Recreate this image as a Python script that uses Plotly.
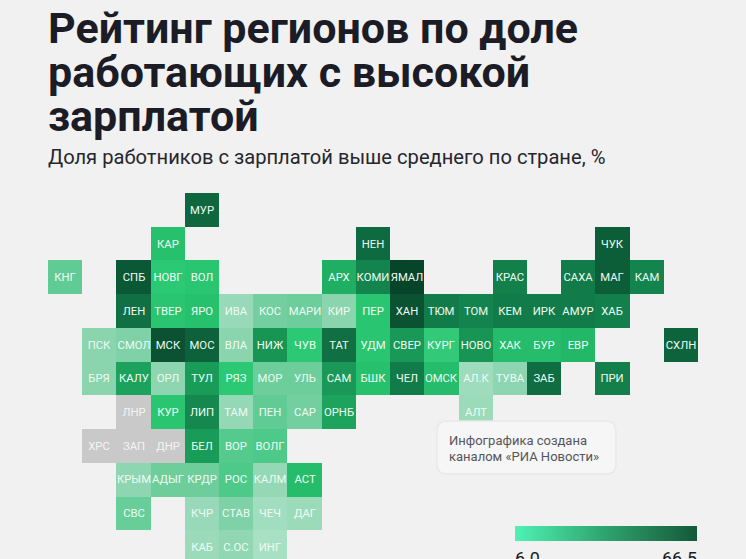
import plotly.graph_objects as go

W, H = 746, 559

# tile grid, one list per row, None where there is no region
tile_codes = [
    [None, None, None, None, "МУР", None, None, None, None, None, None, None, None, None, None, None, None, None, None],
    [None, None, None, "КАР", None, None, None, None, None, "НЕН", None, None, None, None, None, None, "ЧУК", None, None],
    ["КНГ", None, "СПБ", "НОВГ", "ВОЛ", None, None, None, "АРХ", "КОМИ", "ЯМАЛ", None, None, "КРАС", None, "САХА", "МАГ", "КАМ", None],
    [None, None, "ЛЕН", "ТВЕР", "ЯРО", "ИВА", "КОС", "МАРИ", "КИР", "ПЕР", "ХАН", "ТЮМ", "ТОМ", "КЕМ", "ИРК", "АМУР", "ХАБ", None, None],
    [None, "ПСК", "СМОЛ", "МСК", "МОС", "ВЛА", "НИЖ", "ЧУВ", "ТАТ", "УДМ", "СВЕР", "КУРГ", "НОВО", "ХАК", "БУР", "ЕВР", None, None, "СХЛН"],
    [None, "БРЯ", "КАЛУ", "ОРЛ", "ТУЛ", "РЯЗ", "МОР", "УЛЬ", "САМ", "БШК", "ЧЕЛ", "ОМСК", "АЛ.К", "ТУВА", "ЗАБ", None, "ПРИ", None, None],
    [None, None, "ЛНР", "КУР", "ЛИП", "ТАМ", "ПЕН", "САР", "ОРНБ", None, None, None, "АЛТ", None, None, None, None, None, None],
    [None, "ХРС", "ЗАП", "ДНР", "БЕЛ", "ВОР", "ВОЛГ", None, None, None, None, None, None, None, None, None, None, None, None],
    [None, None, "КРЫМ", "АДЫГ", "КРДР", "РОС", "КАЛМ", "АСТ", None, None, None, None, None, None, None, None, None, None, None],
    [None, None, "СВС", None, "КЧР", "СТАВ", "ЧЕЧ", "ДАГ", None, None, None, None, None, None, None, None, None, None, None],
    [None, None, None, None, "КАБ", "С.ОС", "ИНГ", None, None, None, None, None, None, None, None, None, None, None, None],
]
# estimated from the tile colours
tile_values = [
    [None, None, None, None, 55, None, None, None, None, None, None, None, None, None, None, None, None, None, None],
    [None, None, None, 32, None, None, None, None, None, 54, None, None, None, None, None, None, 58, None, None],
    [22, None, 60, 30, 31, None, None, None, 36, 46, 66.5, None, None, 47, None, 48, 58, 46, None],
    [None, None, 52, 31, 32, 11, 19, 20, 15, 31, 62, 48, 46, 48, 48, 48, 47, None, None],
    [None, 15, 17, 62, 57, 15, 42, 30, 52, 31, 41, 29, 42, 33, 33, 34, None, None, 56],
    [None, 15, 38.5, 14, 40, 30, 20, 20, 41, 32, 48, 33, 9, 14, 53, None, 47, None, None],
    [None, None, None, 31, 45, 12, 22, 19, 38, None, None, None, 10, None, None, None, None, None, None],
    [None, None, None, None, 40, 24, 25, None, None, None, None, None, None, None, None, None, None, None, None],
    [None, None, 14, 20, 20, 25, 12, 33, None, None, None, None, None, None, None, None, None, None, None],
    [None, None, 21, None, 11, 17, 8, 10, None, None, None, None, None, None, None, None, None, None, None],
    [None, None, None, None, 10, 13, 6, None, None, None, None, None, None, None, None, None, None, None, None],
]
no_data_codes = ["ЛНР", "ХРС", "ЗАП", "ДНР"]
legend_limits = [6.0, 66.5]

title_lines = ["Рейтинг регионов по доле", "работающих с высокой", "зарплатой"]
subtitle = "Доля работников с зарплатой выше среднего по стране, %"
note_lines = ["Инфографика создана", "каналом «РИА Новости»"]

tile_scale = [
    [0.0, "#a8e0c4"], [0.15, "#8ad4ae"], [0.27, "#5fcb94"], [0.40, "#2ac973"],
    [0.53, "#1ca45d"], [0.70, "#127a49"], [0.86, "#0c5e39"], [1.0, "#07452b"],
]
legend_scale = [[0.0, "#4ff2b4"], [0.5, "#2ea36c"], [1.0, "#14593a"]]

# where the grid sits on the page, in pixels
LEFT, TOP, CELL_W, CELL_H = 48, 193, 34.2, 33.7
TILE_FONT = "Roboto, sans-serif"


def px(x):
    return x / W


def py(y):
    return 1 - y / H


def rounded_rect(x0, y0, x1, y1, r):
    x0, x1 = px(x0), px(x1)
    y0, y1 = py(y0), py(y1)
    rx, ry = r / W, r / H
    return (f"M {x0 + rx} {y0} L {x1 - rx} {y0} Q {x1} {y0} {x1} {y0 - ry} "
            f"L {x1} {y1 + ry} Q {x1} {y1} {x1 - rx} {y1} L {x0 + rx} {y1} "
            f"Q {x0} {y1} {x0} {y1 + ry} L {x0} {y0 - ry} Q {x0} {y0} {x0 + rx} {y0} Z")


grey_z = [[1 if c in no_data_codes else None for c in row] for row in tile_codes]
tile_text = [[c if c and c not in no_data_codes else "" for c in row] for row in tile_codes]
grey_text = [[c if c in no_data_codes else "" for c in row] for row in tile_codes]

fig = go.Figure()
fig.add_trace(go.Heatmap(
    z=tile_values, text=tile_text, texttemplate="%{text}",
    textfont=dict(family=TILE_FONT, size=11.3, color="#eefbf3"),
    colorscale=tile_scale, zmin=legend_limits[0], zmax=legend_limits[1],
    showscale=False, hoverongaps=False,
))
fig.add_trace(go.Heatmap(
    z=grey_z, text=grey_text, texttemplate="%{text}",
    textfont=dict(family=TILE_FONT, size=11.3, color="#f4f4f4"),
    colorscale=[[0, "#c9c9c9"], [1, "#c9c9c9"]],
    showscale=False, hoverongaps=False,
))
# only here for the colour bar in the corner
fig.add_trace(go.Scatter(
    x=[None, None], y=[None, None], mode="markers", showlegend=False,
    marker=dict(
        color=legend_limits, cmin=legend_limits[0], cmax=legend_limits[1],
        colorscale=legend_scale, showscale=True,
        colorbar=dict(
            orientation="h", x=px(515), xanchor="left", y=py(526), yanchor="top",
            lenmode="pixels", len=182, thicknessmode="pixels", thickness=15,
            outlinewidth=0, ticks="", showticklabels=False, xpad=0, ypad=0,
        ),
    ),
))

annotations = []


def add_text(x, y, text, size, color, family="Roboto, sans-serif", xanchor="left"):
    annotations.append(dict(
        x=px(x), y=py(y), xref="paper", yref="paper", text=text, showarrow=False,
        xanchor=xanchor, yanchor="middle", align="left",
        font=dict(family=family, size=size, color=color),
    ))


for line, y in zip(title_lines, [28, 72, 116]):
    add_text(46, y, f"<b>{line}</b>", 43, "#1b1c26")
add_text(46, 157, subtitle, 20.15, "#26262e")
for line, y in zip(note_lines, [440, 456]):
    add_text(447, y, line, 13, "#55555c")
add_text(513, 558, f"{legend_limits[0]:.1f}", 18, "#1b1c26")
add_text(699, 558, f"{legend_limits[1]:.1f}", 18, "#1b1c26", xanchor="right")

fig.update_layout(
    width=W, height=H,
    margin=dict(l=0, r=0, t=0, b=0),
    paper_bgcolor="#f1f1f1", plot_bgcolor="#f1f1f1",
    xaxis=dict(visible=False, range=[-0.5 - LEFT / CELL_W, -0.5 + (W - LEFT) / CELL_W]),
    yaxis=dict(visible=False, range=[-0.5 + (H - TOP) / CELL_H, -0.5 - TOP / CELL_H]),
    annotations=annotations,
    shapes=[
        dict(type="path", xref="paper", yref="paper", path=rounded_rect(437, 421, 616, 474, 10),
             fillcolor="#f6f6f6", line=dict(color="#e9e9e9", width=1.5), layer="above"),
    ],
)

fig.write_html("out.html", config={"displayModeBar": False},
               post_script="document.body.style.margin='0';")
